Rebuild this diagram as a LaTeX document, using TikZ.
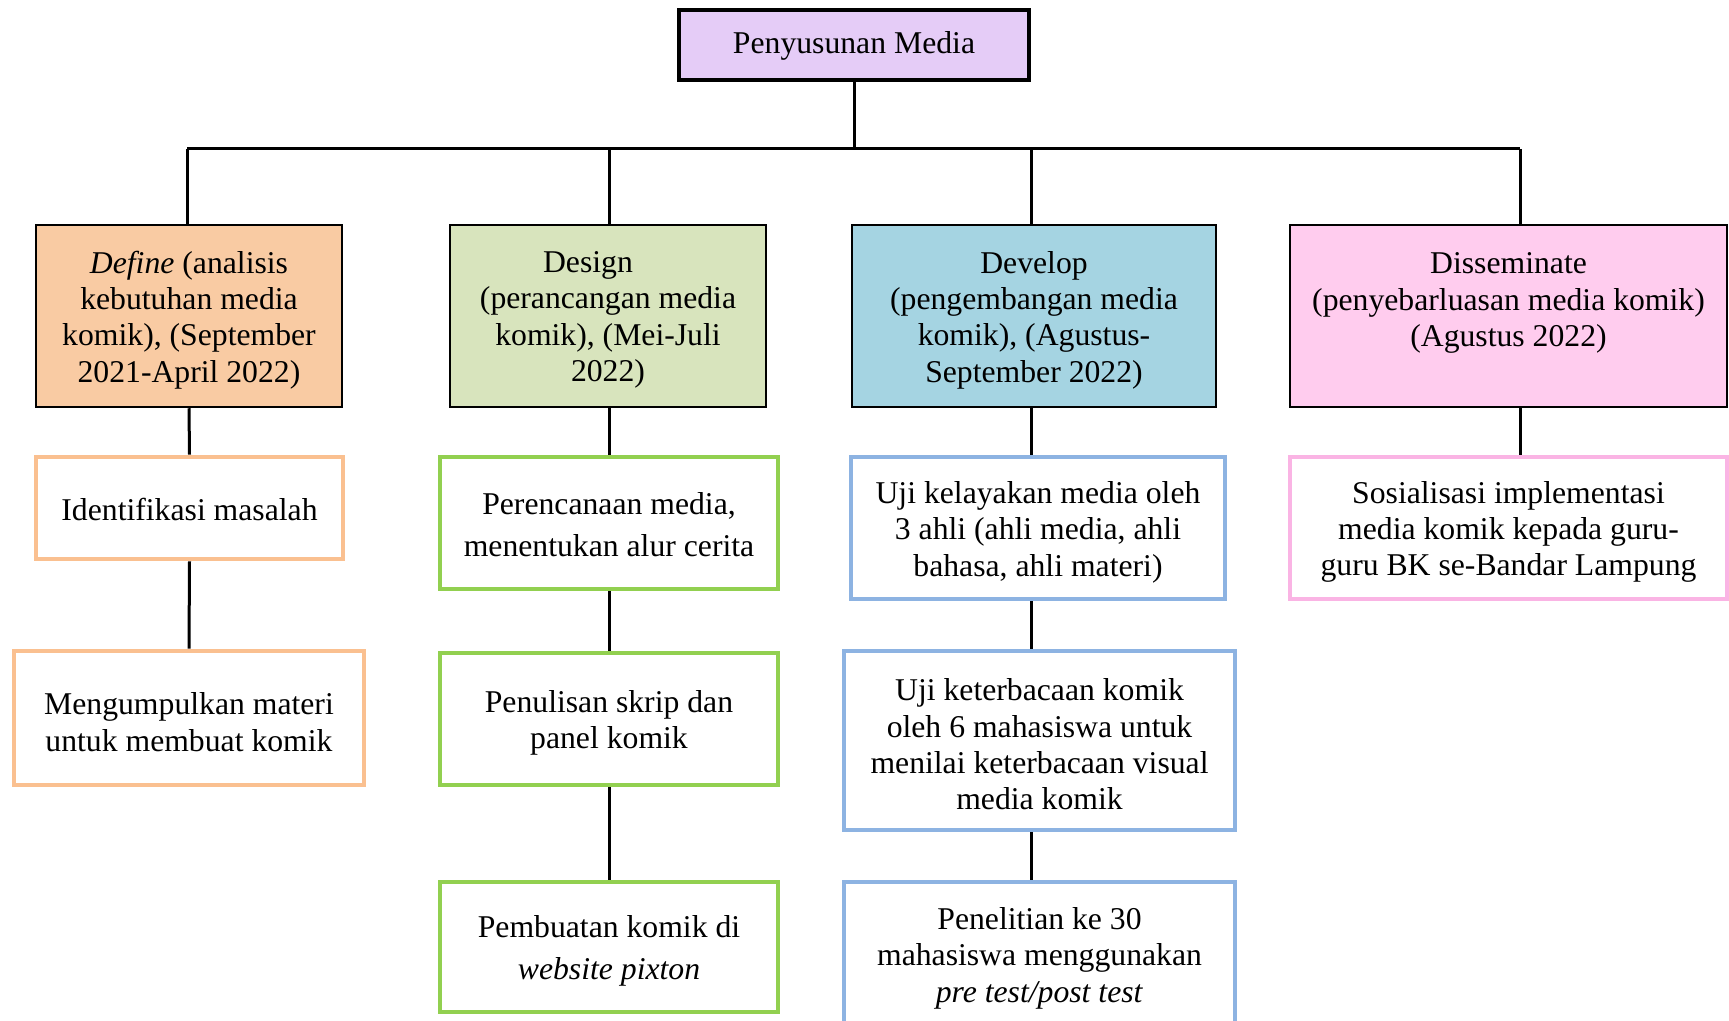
\documentclass[tikz,border=0pt]{standalone}
\usepackage{fontspec}
\setmainfont{Liberation Serif}
\definecolor{topfill}{HTML}{E5CCF7}
\definecolor{deffill}{HTML}{F9CBA3}
\definecolor{desfill}{HTML}{D8E4BD}
\definecolor{devfill}{HTML}{A5D4E2}
\definecolor{disfill}{HTML}{FFCCEE}
\definecolor{orgline}{HTML}{FAC090}
\definecolor{grnline}{HTML}{92D050}
\definecolor{bluline}{HTML}{8DB3E2}
\definecolor{pnkline}{HTML}{FAB4E4}
\tikzset{
  txt/.style={font=\fontsize{15.85}{18.2}\selectfont, align=center, inner sep=0pt, yshift=-2pt},
  txtwide/.style={font=\fontsize{15.85}{21}\selectfont, align=center, inner sep=0pt, yshift=-2pt},
  topbox/.style={draw=black, line width=2.2pt, rectangle, inner sep=0pt},
  catbox/.style={draw=black, line width=1.25pt, rectangle, inner sep=0pt},
  childbox/.style={line width=2.4pt, fill=white, rectangle, inner sep=0pt},
  conn/.style={draw=black, line width=1.5pt},
}
\begin{document}
\begin{tikzpicture}[x=0.5pt,y=-0.5pt]
\useasboundingbox (0,0) rectangle (1729,1021);
\clip (0,0) rectangle (1729,1021);
\fill[white] (0,0) rectangle (1729,1021);

% top
\node[topbox, fill=topfill, minimum width=175pt, minimum height=35pt,
  label={[txt, yshift=1.5pt]center:Penyusunan Media}] (top) at (854,45) {};

% categories
\node[catbox, fill=deffill, minimum width=153pt, minimum height=91pt,
  label={[txt]center:{\textit{Define} (analisis\\kebutuhan media\\komik), (September\\2021-April 2022)}}] (define) at (189,316) {};
\node[catbox, fill=desfill, minimum width=158pt, minimum height=91pt,
  label={[txt]center:{Design\hspace*{20pt}\\(perancangan media\\komik), (Mei-Juli\\2022)}}] (design) at (608,316) {};
\node[catbox, fill=devfill, minimum width=182pt, minimum height=91pt,
  label={[txt]center:{Develop\\(pengembangan media\\komik), (Agustus-\\September 2022)}}] (develop) at (1034,316) {};
\node[catbox, fill=disfill, minimum width=218.5pt, minimum height=91pt,
  label={[txt, yshift=1pt]center:{Disseminate\\(penyebarluasan media komik)\\(Agustus 2022)\\\mbox{}}}] (diss) at (1508.5,316) {};

% define children
\node[childbox, draw=orgline, minimum width=153.5pt, minimum height=51pt,
  label={[txt, yshift=1.5pt]center:Identifikasi masalah}] (iden) at (189.5,508) {};
\node[childbox, draw=orgline, minimum width=175pt, minimum height=67pt,
  label={[txt]center:{Mengumpulkan materi\\untuk membuat komik}}] (kumpul) at (189,718) {};

% design children
\node[childbox, draw=grnline, minimum width=169pt, minimum height=66pt,
  label={[txtwide, yshift=1pt]center:{Perencanaan media,\\menentukan alur cerita}}] (rencana) at (609,523) {};
\node[childbox, draw=grnline, minimum width=169pt, minimum height=66pt,
  label={[txt]center:{Penulisan skrip dan\\panel komik}}] (tulis) at (609,719) {};
\node[childbox, draw=grnline, minimum width=169pt, minimum height=65pt,
  label={[txtwide]center:{Pembuatan komik di\\\textit{website pixton}}}] (buat) at (609,947) {};

% develop children
\node[childbox, draw=bluline, minimum width=187pt, minimum height=71pt,
  label={[txt]center:{Uji kelayakan media oleh\\3 ahli (ahli media, ahli\\bahasa, ahli materi)}}] (uji1) at (1038,528) {};
\node[childbox, draw=bluline, minimum width=195.5pt, minimum height=89.5pt,
  label={[txt]center:{Uji keterbacaan komik\\oleh 6 mahasiswa untuk\\menilai keterbacaan visual\\media komik}}] (uji2) at (1039.5,740.5) {};
\node[childbox, draw=bluline, minimum width=195.5pt, minimum height=72pt,
  label={[txt]center:{Penelitian ke 30\\mahasiswa menggunakan\\\textit{pre test/post test}}}] (teliti) at (1039.5,954) {};

% disseminate child
\node[childbox, draw=pnkline, minimum width=218.5pt, minimum height=71pt,
  label={[txt]center:{Sosialisasi implementasi\\media komik kepada guru-\\guru BK se-Bandar Lampung}}] (sos) at (1508.5,528) {};

% bus
\coordinate (b1) at (187,149);
\coordinate (b2) at (609,149);
\coordinate (b3) at (1031,149);
\coordinate (b4) at (1520,149);

\draw[conn] (top.south) -- (top.south |- b1);
\draw[conn] (b1) -- (b4);
\draw[conn] (b1) -- (b1 |- define.north);
\draw[conn] (b2) -- (b2 |- design.north);
\draw[conn] (b3) -- (b3 |- develop.north);
\draw[conn] (b4) -- (b4 |- diss.north);

\draw[conn] (define.south) -- (iden.north);
\draw[conn] (iden.south) -- (kumpul.north);
\draw[conn] (b2 |- design.south) -- (b2 |- rencana.north);
\draw[conn] (b2 |- rencana.south) -- (b2 |- tulis.north);
\draw[conn] (b2 |- tulis.south) -- (b2 |- buat.north);
\draw[conn] (b3 |- develop.south) -- (b3 |- uji1.north);
\draw[conn] (b3 |- uji1.south) -- (b3 |- uji2.north);
\draw[conn] (b3 |- uji2.south) -- (b3 |- teliti.north);
\draw[conn] (b4 |- diss.south) -- (b4 |- sos.north);
\end{tikzpicture}
\end{document}
